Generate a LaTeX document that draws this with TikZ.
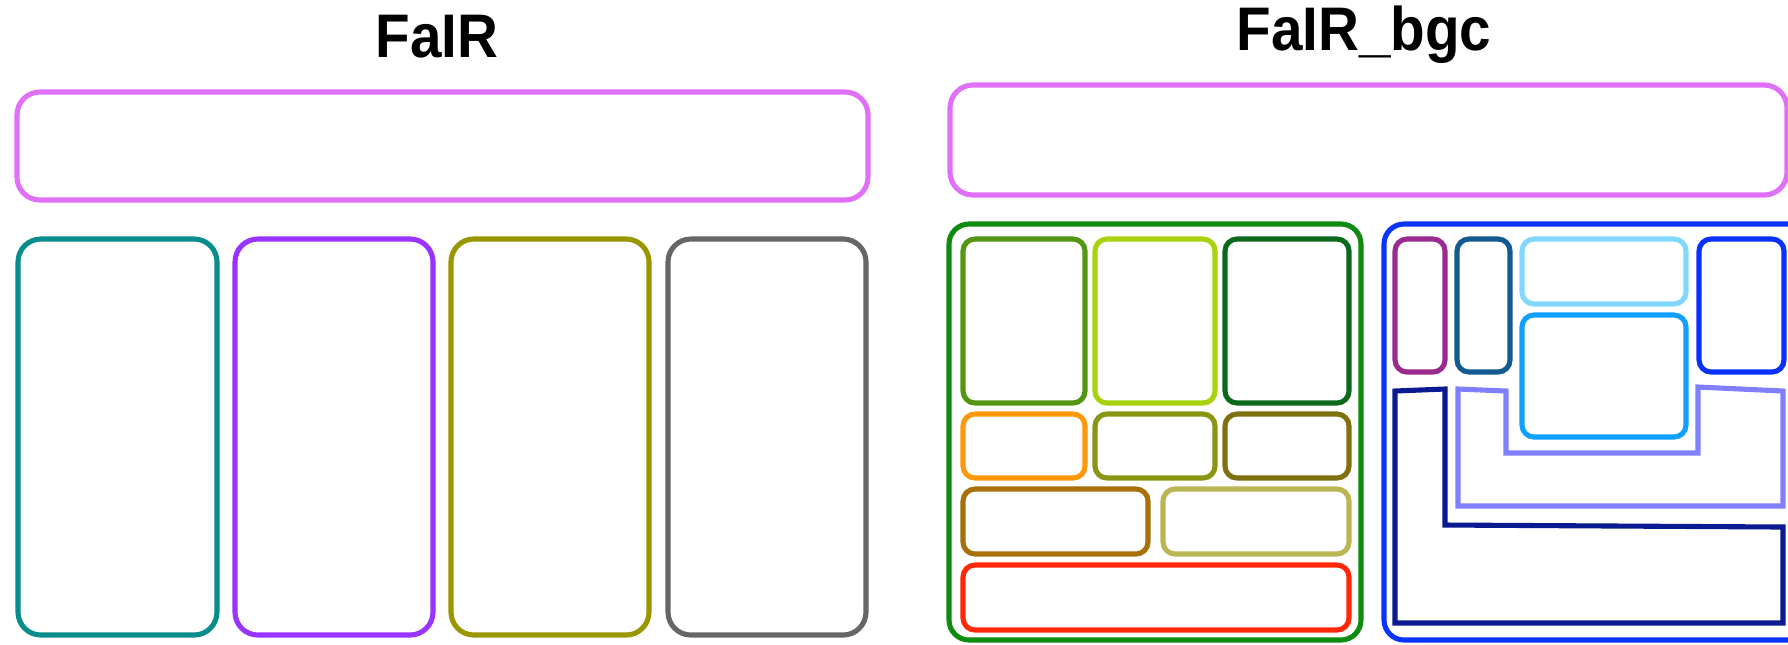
\documentclass[tikz,border=0pt]{standalone}
\usepackage{fontspec}
\newfontfamily\titlefont[FakeStretch=0.92]{Liberation Sans}
\definecolor{pinkbox}{RGB}{224,112,248}
\definecolor{tealbox}{RGB}{8,140,140}
\definecolor{violetbox}{RGB}{153,51,255}
\definecolor{olivebox}{RGB}{153,150,0}
\definecolor{graybox}{RGB}{102,102,102}
\definecolor{veg}{RGB}{14,140,16}
\definecolor{vegA}{RGB}{82,150,18}
\definecolor{vegB}{RGB}{168,210,14}
\definecolor{vegC}{RGB}{10,105,26}
\definecolor{vegD}{RGB}{255,152,12}
\definecolor{vegE}{RGB}{136,150,20}
\definecolor{vegF}{RGB}{127,112,16}
\definecolor{vegG}{RGB}{168,112,10}
\definecolor{vegH}{RGB}{187,181,85}
\definecolor{vegI}{RGB}{255,40,10}
\definecolor{soil}{RGB}{10,52,255}
\definecolor{soilA}{RGB}{154,42,144}
\definecolor{soilB}{RGB}{18,90,144}
\definecolor{soilC}{RGB}{128,216,255}
\definecolor{soilD}{RGB}{16,160,255}
\definecolor{soilE}{RGB}{10,48,255}
\definecolor{soilF}{RGB}{128,128,255}
\definecolor{soilG}{RGB}{10,26,144}

\begin{document}
\begin{tikzpicture}[x=0.01cm, y=-0.01cm, line width=1.45pt,
    big/.style={rounded corners=6.5pt},
    small/.style={rounded corners=3.4pt},
    title/.style={font=\titlefont\bfseries\fontsize{17.5}{20}\selectfont, anchor=base}]
  \useasboundingbox (0,0) rectangle (1788,644);
  \clip (0,0) rectangle (1788,644);

  \node[title] (fair) at (437,57) {FaIR};
  \draw[pinkbox, big] (17,92) rectangle (868,200);
  \draw[tealbox,   big] (18,239) rectangle (217,635);
  \draw[violetbox, big] (235,239) rectangle (433,635);
  \draw[olivebox,  big] (451,239) rectangle (649,635);
  \draw[graybox,   big] (668,239) rectangle (866,635);

  \node[title] (bgc) at (1364,50) {FaIR\_bgc};
  \draw[pinkbox, big] (950,85) rectangle (1787,195);

  \draw[veg, rounded corners=5.7pt] (949,224) rectangle (1361,640);
  \draw[vegA, small] (963,239) rectangle (1085,403);
  \draw[vegB, small] (1095,239) rectangle (1215,403);
  \draw[vegC, small] (1225,239) rectangle (1349,403);
  \draw[vegD, small] (963,414) rectangle (1085,478);
  \draw[vegE, small] (1095,414) rectangle (1215,478);
  \draw[vegF, small] (1225,414) rectangle (1349,478);
  \draw[vegG, small] (963,489) rectangle (1148,554);
  \draw[vegH, small] (1163,489) rectangle (1349,554);
  \draw[vegI, small] (963,565) rectangle (1349,630);

  \draw[soil, rounded corners=5.7pt] (1384,224) rectangle (1810,640);
  \draw[soilA, small] (1395,239) rectangle (1445,372);
  \draw[soilB, small] (1457,239) rectangle (1510,372);
  \draw[soilC, small] (1522,239) rectangle (1686,304);
  \draw[soilD, small] (1522,315) rectangle (1686,437);
  \draw[soilE, small] (1699,239) rectangle (1784,372);
  \draw[soilF] (1458,389) -- (1506,391) -- (1506,453) -- (1698,453) -- (1698,387)
    -- (1783,391) -- (1783,506) -- (1458,506) -- cycle;
  \draw[soilG] (1395,391) -- (1445,389) -- (1445,525) -- (1783,527) -- (1783,623)
    -- (1395,623) -- cycle;
\end{tikzpicture}
\end{document}
